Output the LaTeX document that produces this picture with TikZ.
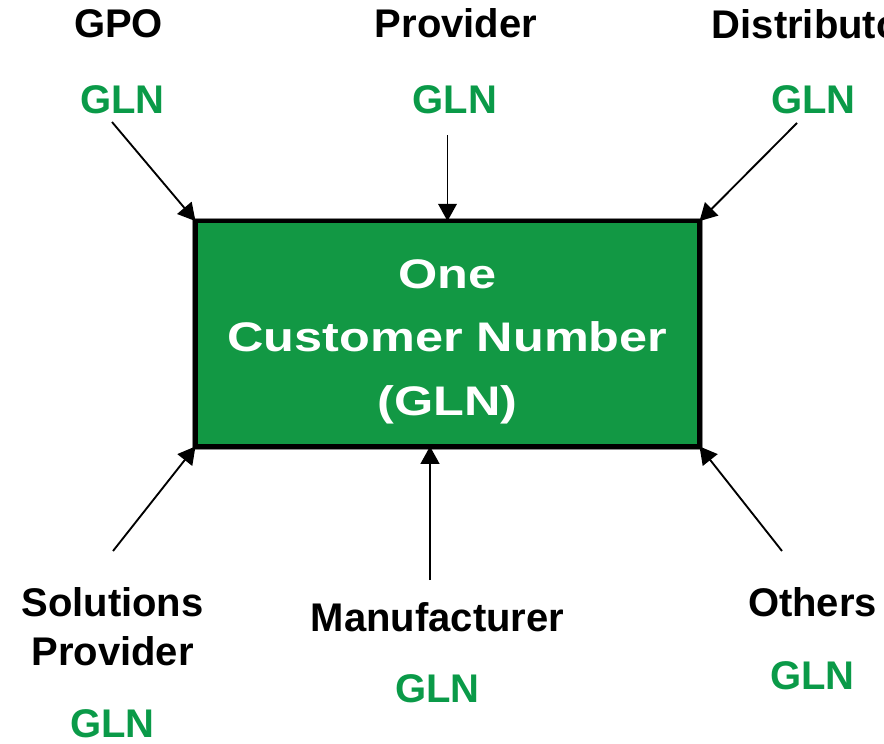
\documentclass[tikz,border=0pt]{standalone}
\usepackage{fontspec}
\setmainfont{Liberation Sans}
\usetikzlibrary{arrows.meta}
\definecolor{glngreen}{RGB}{10,154,72}
\definecolor{boxgreen}{RGB}{18,152,68}
\newcommand\boxline[1]{\scalebox{1.22}[1]{#1}}
\tikzset{
	lbl/.style={font=\fontsize{30}{36.75}\selectfont\bfseries, anchor=base, inner sep=0pt, align=center},
	gln/.style={lbl, text=glngreen},
	feed/.style={line width=1.4pt, -{Triangle[length=13pt,width=14pt]}},
	custbox/.style={draw=black, line width=3.2pt, fill=boxgreen, outer sep=0pt, inner sep=0pt,
		minimum width=378pt, minimum height=169pt, preaction={draw=black!45, line width=5.2pt}},
	custtext/.style={text=white, align=center, inner sep=0pt, font=\fontsize{31}{47.5}\selectfont\bfseries},
}

\begin{document}
\begin{tikzpicture}[x=0.75pt,y=-0.75pt]
			%%%%% START %%%%%
			\def\ytop{37}
			\def\ygln{113}
			\useasboundingbox (0,0) rectangle (884,743);
			\clip (0,0) rectangle (884,743);

			\node[custbox] (cust) at (447.5,333.75) {};
			\node[custtext] (custtxt) at ([yshift=-6pt]cust.center)
				{\boxline{One}\\\boxline{Customer Number}\\\boxline{(GLN)}};

			% sources above the box
			\node[lbl] (gpo) at (118.5,\ytop) {GPO};
			\node[gln] (gpogln) at (122.5,\ygln) {GLN};
			\node[lbl] (prov) at (456,\ytop) {Provider};
			\node[gln] (provgln) at (455,\ygln) {GLN};
			\node[lbl] (dist) at (814,38) {Distributor};
			\node[gln] (distgln) at (813.5,\ygln) {GLN};

			% sources below the box
			\node[lbl] (sol) at (112.5,665) {Solutions\\Provider};
			\node[gln] (solgln) at (112.5,737) {GLN};
			\node[lbl] (man) at (437.5,631) {Manufacturer};
			\node[gln] (mangln) at (437.5,702) {GLN};
			\node[lbl] (oth) at (812.5,616) {Others};
			\node[gln] (othgln) at (812.5,689) {GLN};

			\coordinate (gpoend) at (112,122);
			\coordinate (provend) at (447.5,135);
			\coordinate (distend) at (797,123);
			\coordinate (solend) at (113,551);
			\coordinate (manend) at (430,580);
			\coordinate (othend) at (782,551);

			\draw[feed] (gpoend) -- (cust.north west);
			\draw[feed] (provend) -- (cust.north);
			\draw[feed] (distend) -- (cust.north east);
			\draw[feed] (solend) -- (cust.south west);
			\draw[feed] (manend) -- (manend |- cust.south);
			\draw[feed] (othend) -- (cust.south east);
			%%%%% END %%%%%
\end{tikzpicture}
\end{document}
